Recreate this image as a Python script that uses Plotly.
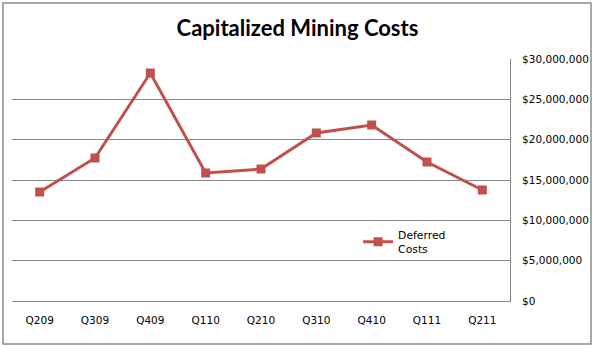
import plotly.graph_objects as go

categories = ["Q209", "Q309", "Q409", "Q110", "Q210", "Q310", "Q410", "Q111", "Q211"]
deferred_costs = [13510000, 17730000, 28260000, 15870000, 16360000, 20830000, 21820000, 17230000, 13760000]
y_ticks = [0, 5000000, 10000000, 15000000, 20000000, 25000000, 30000000]
y_tick_labels = ["$0", "$5,000,000", "$10,000,000", "$15,000,000", "$20,000,000", "$25,000,000", "$30,000,000"]

fig = go.Figure()
fig.add_trace(go.Scatter(
    x=categories, y=deferred_costs, mode="lines+markers",
    name="Deferred<br>Costs",
    line=dict(color="#C0504D", width=3),
    marker=dict(symbol="square", size=9, color="#C0504D"),
))

fig.update_layout(
    width=595, height=349,
    margin=dict(l=12, r=85, t=59, b=48),
    paper_bgcolor="white", plot_bgcolor="white",
    title=dict(text="<b>Capitalized Mining Costs</b>", x=0.5, xanchor="center",
               y=0.92, yanchor="middle",
               font=dict(family="Lato", size=22, color="black")),
    font=dict(family="DejaVu Sans", size=10.5, color="black"),
    showlegend=True,
    legend=dict(x=0.695, y=0.33, xanchor="left", yanchor="top",
                bgcolor="rgba(0,0,0,0)", font=dict(size=10.8, family="DejaVu Sans"),
                itemwidth=30, tracegroupgap=0),
    shapes=[dict(type="rect", xref="paper", yref="paper",
                 x0=-9/498, x1=(591-12)/498, y0=-(344-301)/242, y1=(301-3)/242,
                 line=dict(color="#8c8c8c", width=1.5), layer="below")],
)
fig.update_xaxes(type="category", showgrid=False, showline=True, linecolor="#888888",
                 linewidth=1, ticks="outside", ticklen=9, tickcolor="rgba(0,0,0,0)",
                 range=[-0.5, 8.5], fixedrange=True, automargin=False)
fig.update_yaxes(side="right", range=[0, 30000000], tickvals=y_ticks, ticktext=y_tick_labels,
                 showgrid=True, gridcolor="#888888", gridwidth=1,
                 showline=True, linecolor="#888888", linewidth=1,
                 ticks="outside", ticklen=9, tickcolor="rgba(0,0,0,0)", zeroline=False,
                 automargin=False)

fig.write_html("out.html")
